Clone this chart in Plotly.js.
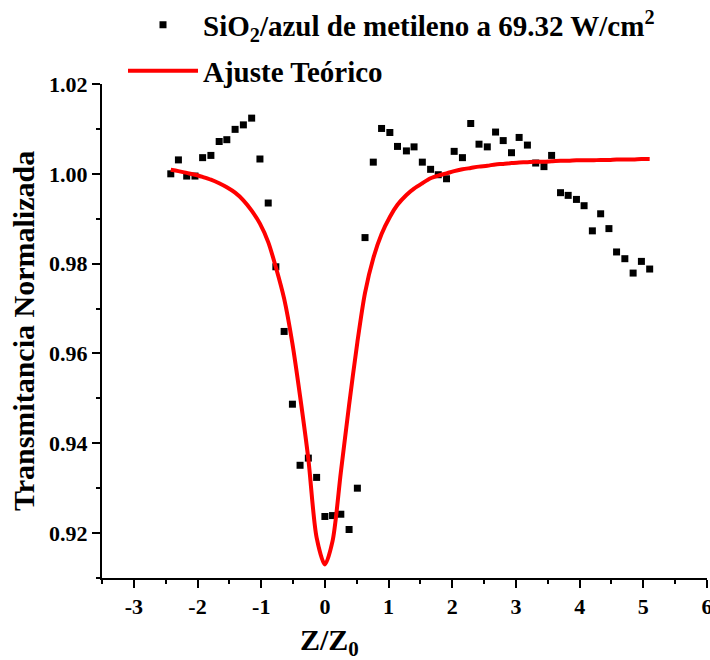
<!DOCTYPE html>
<html>
<head>
<meta charset="utf-8">
<script src="https://cdn.plot.ly/plotly-3.0.1.min.js"></script>
<style>html,body{margin:0;padding:0;background:#fff;}#chart{width:710px;height:660px;}</style>
</head>
<body>
<div id="chart"></div>
<script>
// Z/Z0 positions of the measured points (also used for the fitted curve)
var zOverZ0 = [-2.42, -2.30, -2.17, -2.04, -1.92, -1.79, -1.66, -1.54, -1.41, -1.28,
  -1.15, -1.02, -0.89, -0.77, -0.64, -0.51, -0.39, -0.26, -0.13, 0.00,
  0.12, 0.25, 0.38, 0.51, 0.63, 0.76, 0.89, 1.02, 1.14, 1.28,
  1.40, 1.53, 1.66, 1.78, 1.91, 2.03, 2.16, 2.29, 2.42, 2.55,
  2.68, 2.80, 2.93, 3.05, 3.18, 3.31, 3.44, 3.56, 3.70, 3.82,
  3.95, 4.07, 4.20, 4.33, 4.46, 4.58, 4.71, 4.84, 4.97, 5.10];

// Measured normalized transmittance
var transmitancia = [1.0000, 1.0031, 0.9995, 0.9995, 1.0036, 1.0041, 1.0072, 1.0076, 1.0099, 1.0109,
  1.0124, 1.0033, 0.9935, 0.9793, 0.9649, 0.9487, 0.9351, 0.9367, 0.9324, 0.9237,
  0.9239, 0.9242, 0.9208, 0.9300, 0.9858, 1.0026, 1.0101, 1.0092, 1.0061, 1.0051,
  1.0060, 1.0026, 1.0010, 0.9998, 0.9989, 1.0050, 1.0036, 1.0112, 1.0066, 1.0060,
  1.0093, 1.0074, 1.0047, 1.0081, 1.0064, 1.0024, 1.0016, 1.0041, 0.9958, 0.9952,
  0.9943, 0.9929, 0.9873, 0.9911, 0.9878, 0.9826, 0.9811, 0.9779, 0.9805, 0.9788];

// Theoretical fit at the same Z/Z0 positions
var ajusteTeorico = [1.0009, 1.0006, 1.0002, 0.9998, 0.9993, 0.9987, 0.9979, 0.9970, 0.9958, 0.9941,
  0.9918, 0.9889, 0.9848, 0.9792, 0.9722, 0.9622, 0.9505, 0.9365, 0.9190, 0.9130,
  0.9182, 0.9335, 0.9485, 0.9625, 0.9735, 0.9812, 0.9866, 0.9904, 0.9931, 0.9953,
  0.9967, 0.9979, 0.9990, 0.9996, 1.0001, 1.0006, 1.0010, 1.0013, 1.0016, 1.0018,
  1.0021, 1.0022, 1.0024, 1.0025, 1.0026, 1.0027, 1.0027, 1.0028, 1.0029, 1.0029,
  1.0030, 1.0030, 1.0030, 1.0031, 1.0031, 1.0032, 1.0032, 1.0032, 1.0033, 1.0033];

var xTickVals = [-3, -2, -1, 0, 1, 2, 3, 4, 5, 6];
var xTickText = ['-3', '-2', '-1', '0', '1', '2', '3', '4', '5', '6'];
var yTickVals = [0.92, 0.94, 0.96, 0.98, 1.00, 1.02];
var yTickText = ['0.92', '0.94', '0.96', '0.98', '1.00', '1.02'];

var serie1Name = 'SiO<sub>2</sub>/azul de metileno a 69.32 W/cm<sup>2</sup>';
var serie2Name = 'Ajuste Teórico';
var xTitle = 'Z/Z<sub>0</sub>';
var yTitle = 'Transmitancia Normalizada';

var FONT = 'Liberation Serif, Times New Roman, serif';
function bold(s) { return '<b>' + s + '</b>'; }

var traces = [
  {
    x: zOverZ0, y: transmitancia, type: 'scatter', mode: 'markers',
    name: bold(serie1Name), legend: 'legend',
    marker: {symbol: 'square', size: 7, color: '#000000'}
  },
  {
    x: zOverZ0, y: ajusteTeorico, type: 'scatter', mode: 'lines',
    name: bold(serie2Name), legend: 'legend2',
    line: {color: '#ff0000', width: 4, shape: 'spline', smoothing: 0.8}
  }
];

var axisCommon = {
  showline: true, linecolor: '#000', linewidth: 2, mirror: false,
  showgrid: false, zeroline: false, automargin: false,
  ticks: 'outside', ticklen: 8, tickwidth: 2, tickcolor: '#000',
  ticklabeloverflow: 'allow',
  tickfont: {family: FONT, size: 22, color: '#000'}
};

var layout = {
  width: 710, height: 660,
  margin: {l: 102, r: 3, t: 84, b: 82, autoexpand: false},
  paper_bgcolor: '#fff', plot_bgcolor: '#fff',
  font: {family: FONT, color: '#000'},
  xaxis: Object.assign({}, axisCommon, {
    range: [-3.5, 6], tickmode: 'array', tickvals: xTickVals, ticktext: xTickText.map(bold),
    minor: {dtick: 0.5, tick0: 0, ticks: 'outside', ticklen: 4, tickwidth: 2, tickcolor: '#000'}
  }),
  yaxis: Object.assign({}, axisCommon, {
    range: [0.91, 1.02], tickmode: 'array', tickvals: yTickVals, ticktext: yTickText.map(bold),
    minor: {dtick: 0.01, tick0: 0.91, ticks: 'outside', ticklen: 4, tickwidth: 2, tickcolor: '#000'},
    title: {text: bold(yTitle), standoff: 6, font: {family: FONT, size: 30, color: '#000', weight: 'bold'}}
  }),
  showlegend: true,
  legend: {
    x: (123 - 102) / 605, xanchor: 'left', y: 1 + (84 - 25) / 494, yanchor: 'middle',
    bgcolor: 'rgba(0,0,0,0)', borderwidth: 0, itemwidth: 70,
    font: {family: FONT, size: 29, color: '#000'}
  },
  legend2: {
    x: (123 - 102) / 605, xanchor: 'left', y: 1 + (84 - 71) / 494, yanchor: 'middle',
    bgcolor: 'rgba(0,0,0,0)', borderwidth: 0, itemwidth: 70,
    font: {family: FONT, size: 29, color: '#000'}
  },
  annotations: [
    {text: bold(xTitle), xref: 'x', x: 0.07, yref: 'paper', y: 0, yanchor: 'middle', yshift: -64,
     showarrow: false, font: {family: FONT, size: 30, color: '#000'}}
  ]
};

Plotly.newPlot('chart', traces, layout, {displayModeBar: false, staticPlot: true});
</script>
</body>
</html>
